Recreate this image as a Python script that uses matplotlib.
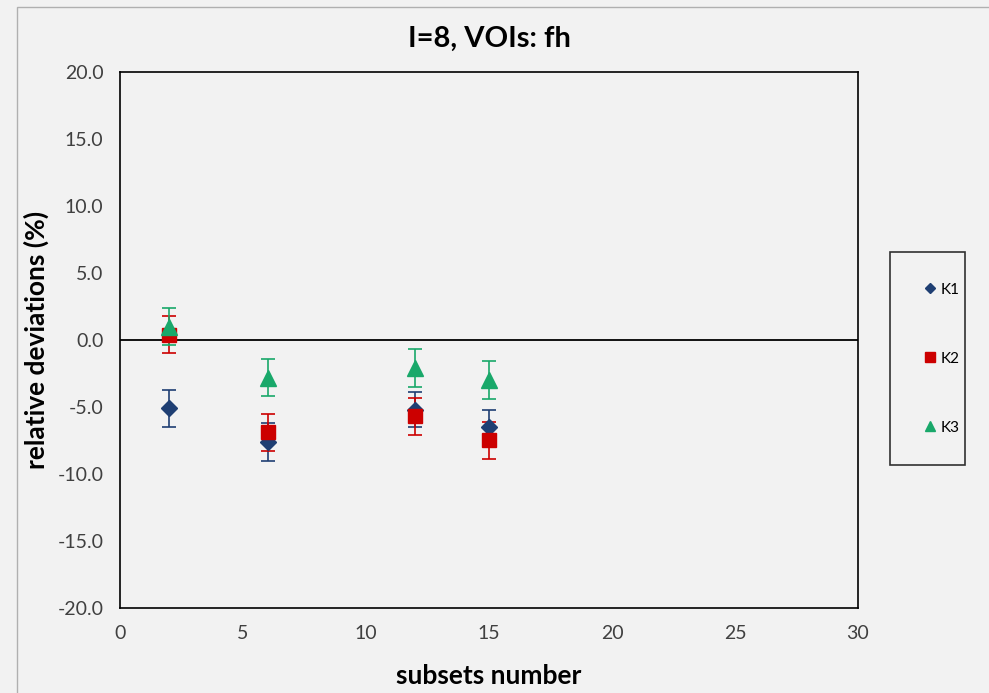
import matplotlib
matplotlib.use("Agg")
import matplotlib.pyplot as plt
from matplotlib.patches import Rectangle

plt.rcParams['font.family'] = ['Lato', 'DejaVu Sans']

subsets = [2, 6, 12, 15]
k1 = [-5.1, -7.6, -5.2, -6.5]
k1_err = [1.4, 1.4, 1.3, 1.3]
k2 = [0.4, -6.9, -5.7, -7.5]
k2_err = [1.4, 1.4, 1.4, 1.4]
k3 = [1.0, -2.8, -2.1, -3.0]
k3_err = [1.4, 1.4, 1.4, 1.4]

series = [
    ("K1", k1, k1_err, "#1f3f73", "D", 8),
    ("K2", k2, k2_err, "#cc0000", "s", 10),
    ("K3", k3, k3_err, "#19a86a", "^", 11),
]

bg = "#f2f2f2"
fig = plt.figure(figsize=(9.89, 6.93), dpi=100, facecolor=bg)
ax = fig.add_axes([0.1213, 0.1227, 0.7462, 0.7734])
ax.set_facecolor(bg)

# screenshot frame
fig.patches.append(Rectangle((17 / 989, -0.01), 1.0, 1 - 7 / 693 + 0.01,
                             transform=fig.transFigure, fill=False,
                             edgecolor="#b0b0b0", lw=1.0))

for name, vals, errs, col, mk, ms in series:
    ax.errorbar(subsets, vals, yerr=errs, fmt=mk, color=col, ms=ms,
                mec=col, ecolor=col, elinewidth=1.2, capsize=5, capthick=1.2,
                label=name)

ax.axhline(0, color="black", lw=1.3)
ax.set_xlim(0, 30)
ax.set_ylim(-20, 20)
ax.set_xticks(range(0, 31, 5))
ax.set_yticks(range(-20, 21, 5))
ax.set_yticklabels(["%.1f" % v for v in range(-20, 21, 5)])
ax.tick_params(length=0, labelsize=14, colors="#404040", pad=12)
for s in ax.spines.values():
    s.set_color("black")
    s.set_linewidth(1.2)

ax.set_title("I=8, VOIs: fh", fontsize=21, fontweight="bold", pad=18)
ax.set_xlabel("subsets number", fontsize=19, fontweight="bold", labelpad=16)
ax.set_ylabel("relative deviations (%)", fontsize=19, fontweight="bold", labelpad=6)

handles = []
for name, vals, errs, col, mk, ms in series:
    h, = ax.plot([], [], mk, color=col, ms=ms * 0.7, label=name)
    handles.append(h)
leg = fig.legend(handles=handles, loc="upper left",
                 bbox_to_anchor=(890 / 989, 1 - 462 / 693, 75 / 989, 210 / 693),
                 mode="expand", frameon=True,
                 fontsize=11, labelspacing=3.6, handletextpad=0.1,
                 borderpad=2.0, borderaxespad=0, handlelength=1.2,
                 fancybox=False)
leg.get_frame().set_edgecolor("black")
leg.get_frame().set_linewidth(1.2)
leg.get_frame().set_facecolor(bg)

fig.savefig("out.png", dpi=100, facecolor=bg)
